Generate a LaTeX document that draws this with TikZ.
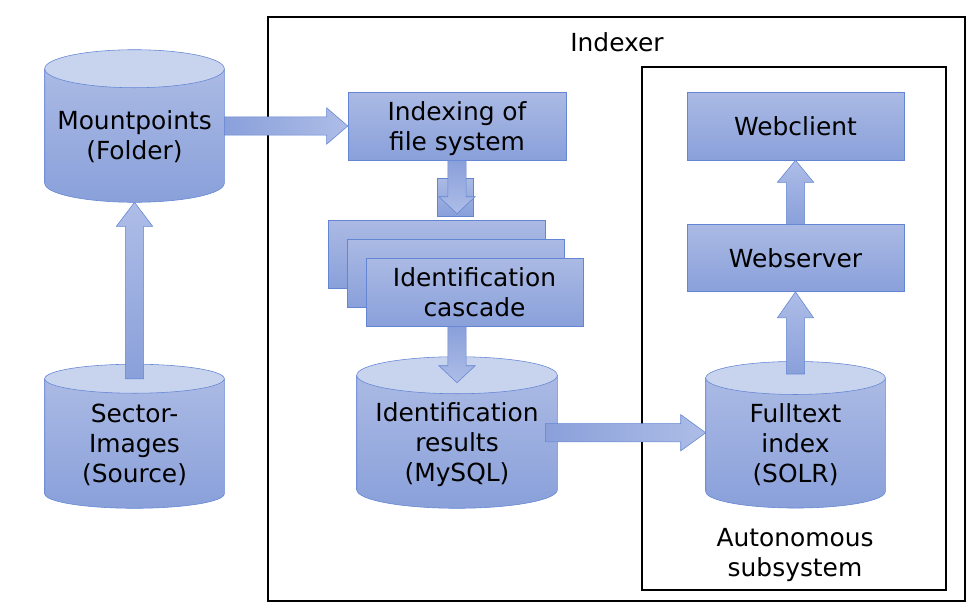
\documentclass[tikz,border=0pt]{standalone}
\usepackage{fontspec}
\setmainfont{DejaVu Sans}
\usetikzlibrary{positioning,calc}
\pgfdeclarelayer{background}
\pgfsetlayers{background,main}
\definecolor{boxtop}{RGB}{171,186,228}
\definecolor{boxbot}{RGB}{137,160,218}
\definecolor{boxline}{RGB}{99,133,212}
\definecolor{captop}{RGB}{200,211,238}
\definecolor{arrdark}{RGB}{138,160,218}
\definecolor{arrlight}{RGB}{174,189,231}
\newcommand\pxu{0.025cm}
\newcommand\shaftw{6.5pt}
\newcommand\headw{12.9pt}
\tikzset{
    box/.style={
        rectangle,
        draw=boxline,
        top color=boxtop,
        bottom color=boxbot,
        minimum width=218*\pxu,
        minimum height=68*\pxu,
        inner sep=0pt,
        text depth=0pt,
        align=center,
    },
    store/.style={
        rectangle,
        minimum width=179*\pxu,
        minimum height=133*\pxu,
        inner sep=0pt,
        text depth=0pt,
        align=center,
    },
    storebody/.style={
        draw=boxline,
        top color=boxtop,
        bottom color=boxbot,
    },
    storecap/.style={
        fill=captop,
        draw=boxline,
    },
    frame/.style={
        rectangle,
        draw=black,
        line width=1.3pt,
        inner sep=0pt,
    },
    blockarrow/.style={
        draw=boxline,
        line width=0.4pt,
    },
}
% cylinder round a store node: [cap radius in px]{node}
\newcommand\drawstore[2][18.5]{%
    \begin{pgfonlayer}{background}
    \path[storebody] let \p1=(#2.south west), \p2=(#2.north east) in
        (\x1,\y2) -- (\x1,\y1+#1*0.7113pt)
        arc[start angle=180, end angle=360, x radius={(\x2-\x1)/2}, y radius={#1*0.7113pt}]
        -- (\x2,\y2) -- cycle;
    \path[storecap] let \p1=(#2.north west), \p2=(#2.north east) in
        ($(\p1)!0.5!(\p2)$) ellipse ({(\x2-\x1)/2} and {#1*0.7113pt});
    \end{pgfonlayer}}
% block arrows: [head length in px]{from}{to}
\newcommand\rarrow[3][22]{%
    \path[blockarrow, left color=arrdark, right color=arrlight] let \p1=(#2), \p2=(#3) in
        (\x1,\y1+\shaftw) -- (\x2-#1*0.7113pt,\y1+\shaftw) -- (\x2-#1*0.7113pt,\y1+\headw)
        -- (\x2,\y1) -- (\x2-#1*0.7113pt,\y1-\headw) -- (\x2-#1*0.7113pt,\y1-\shaftw)
        -- (\x1,\y1-\shaftw) -- cycle;}
\newcommand\uarrow[3][24]{%
    \path[blockarrow, bottom color=arrdark, top color=arrlight] let \p1=(#2), \p2=(#3) in
        (\x1-\shaftw,\y1) -- (\x1-\shaftw,\y2-#1*0.7113pt) -- (\x1-\headw,\y2-#1*0.7113pt)
        -- (\x1,\y2) -- (\x1+\headw,\y2-#1*0.7113pt) -- (\x1+\shaftw,\y2-#1*0.7113pt)
        -- (\x1+\shaftw,\y1) -- cycle;}
\newcommand\darrow[3][17]{%
    \path[blockarrow, top color=arrdark, bottom color=arrlight] let \p1=(#2), \p2=(#3) in
        (\x1-\shaftw,\y1) -- (\x1-\shaftw,\y2+#1*0.7113pt) -- (\x1-\headw,\y2+#1*0.7113pt)
        -- (\x1,\y2) -- (\x1+\headw,\y2+#1*0.7113pt) -- (\x1+\shaftw,\y2+#1*0.7113pt)
        -- (\x1+\shaftw,\y1) -- cycle;}

\begin{document}
\begin{tikzpicture}[x=\pxu, y=-\pxu, font=\fontsize{17.7}{21.3}\selectfont]
    \useasboundingbox (0,0) rectangle (979,613);

    \node [frame, minimum width=697*\pxu, minimum height=584*\pxu] (indexer) at (616.5,309) {};
    \node [frame, line width=1pt, minimum width=304*\pxu, minimum height=523*\pxu] (autonomous) at (794,328.5) {};
    \node (indexerlabel) at (617,42) {Indexer};
    \node [align=center] (autolabel) at (795,555) {Autonomous\\subsystem};

    \node [store] (mount) at (134.5,135.5) {Mountpoints\\(Folder)};
    \node [store, minimum height=129*\pxu] (sector) at (134.5,443.5) {Sector-\\Images\\(Source)};

    \node [box] (index) at (457,126) {Indexing of\\file system};
    \node [box, minimum width=36*\pxu, minimum height=38*\pxu] (joint) at (455,197) {};
    \node [box, minimum width=217*\pxu] (stack1) at (436.5,254) {};
    \node [box, minimum width=217*\pxu] (stack2) at (455.5,273) {};
    \node [box, minimum width=217*\pxu] (stack3) at (474.5,292) {Identification\\cascade};

    \node [store, minimum width=200*\pxu, minimum height=132.5*\pxu] (results) at (457,441.75) {Identification\\results\\(MySQL)};
    \node [store, minimum height=129.5*\pxu] (fulltext) at (795.5,443) {Fulltext\\index\\(SOLR)};

    \node [box, minimum width=217*\pxu] (webclient) at (795.5,126) {Webclient};
    \node [box, minimum width=217*\pxu, minimum height=67*\pxu, below=64*\pxu of webclient] (webserver) {Webserver};

    \drawstore[19]{mount}
    \drawstore[14.5]{sector}
    \drawstore{results}
    \drawstore[16.5]{fulltext}

    \rarrow[21]{mount.east |- index.west}{index.west}
    \rarrow[25]{$(results.east)+(-12,-9)$}{fulltext.west |- {$(results.east)+(0,-9)$}}
    \uarrow{sector.north}{mount.south}
    \darrow{index.south}{$(index.south |- stack1.north)+(0,-6)$}
    \darrow{results.north |- stack3.south}{$(results.north)+(0,7.5)$}
    \uarrow[26]{$(fulltext.north)+(0,-4)$}{fulltext.north |- webserver.south}
    \uarrow[22]{webserver.north}{webserver.north |- webclient.south}
\end{tikzpicture}
\end{document}
